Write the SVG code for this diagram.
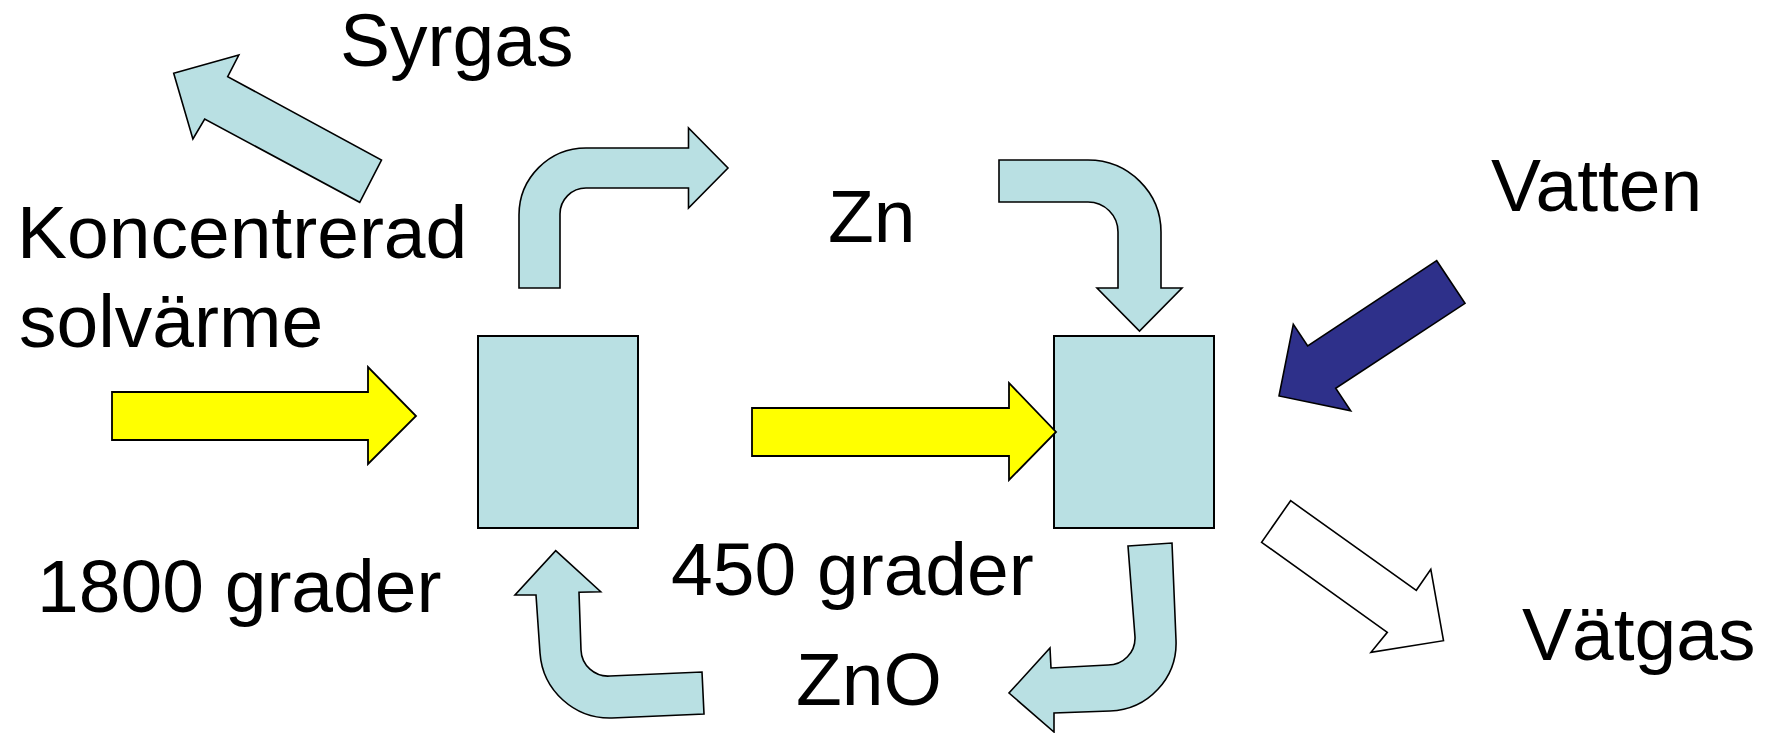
<svg xmlns="http://www.w3.org/2000/svg" width="1768" height="733" viewBox="0 0 1768 733">
<style>
.lbl{font-family:"Liberation Sans",Arial,sans-serif;font-size:75px;fill:#000}
.box{fill:#B9E0E3;stroke:#000;stroke-width:2}
.lb{fill:#B9E0E3;stroke:#000;stroke-width:1.6;stroke-linejoin:miter}
.yel{fill:#FFFF00;stroke:#000;stroke-width:1.8}
.dk{fill:#2E308A;stroke:#000;stroke-width:1.6}
.wh{fill:#FFFFFF;stroke:#000;stroke-width:1.6}
</style>
<rect width="1768" height="733" fill="#fff"/>
<g id="reactor1"><rect class="box" x="478" y="336" width="160" height="192"/></g>
<g id="reactor2"><rect class="box" x="1054" y="336" width="160" height="192"/></g>
<g id="connectors">
<polygon class="lb" points="173.7,73.3 238.8,55 227.7,76.7 381.5,160 359.7,202.3 204.7,119 192.9,139"/>
<path class="lb" d="M519,288 L519,215 A67,67 0 0 1 586,148 L688.5,148 L688.5,128 L728,168 L688.5,208 L688.5,188 L586,188 A26,26 0 0 0 560,214 L560,288 Z"/>
<path class="lb" d="M999,160 L1088,160 A73,72 0 0 1 1161,232 L1161,288 L1182,288 L1139.5,331 L1097,288 L1118,288 L1118,232 A30,30 0 0 0 1088,202 L999,202 Z"/>
<path class="lb" d="M1128,546 L1172,543 L1176,640 A68,68 0 0 1 1110,711 L1054,713 L1054,732 L1009,693 L1050,648 L1051,668 L1108,665 A27,27 0 0 0 1135,637 Z"/>
<path class="lb" d="M555.7,550.7 L600.7,591.7 L579,592.3 L581,650 A27,27 0 0 0 610,676 L702,672 L704,714 L612,718 A70,70 0 0 1 540,653 L536,595 L515,595 Z"/>
<polygon class="yel" points="112,392 368,392 368,367 416,416 368,464 368,440 112,440"/>
<polygon class="yel" points="752,408 1009,408 1009,383 1056,432 1009,480 1009,456 752,456"/>
<polygon class="dk" points="1279,396 1293.3,324.3 1307.7,346 1436.7,260.7 1465,303.3 1335.7,388.3 1350.7,410.7"/>
<polygon class="wh" points="1290.6,500.7 1261.6,542.3 1387.3,632.3 1371,652.3 1443.5,640.7 1430.8,569.3 1416.3,590.3"/>
</g>
<g id="labels">
<text class="lbl" x="340" y="66">Syrgas</text>
<text class="lbl" x="17" y="258">Koncentrerad</text>
<text class="lbl" x="19" y="347">solvärme</text>
<text class="lbl" x="37" y="612">1800 grader</text>
<text class="lbl" x="671" y="595">450 grader</text>
<text class="lbl" x="828" y="242">Zn</text>
<text class="lbl" x="796" y="705">ZnO</text>
<text class="lbl" x="1491" y="211">Vatten</text>
<text class="lbl" x="1522" y="660">Vätgas</text>
</g>
</svg>
